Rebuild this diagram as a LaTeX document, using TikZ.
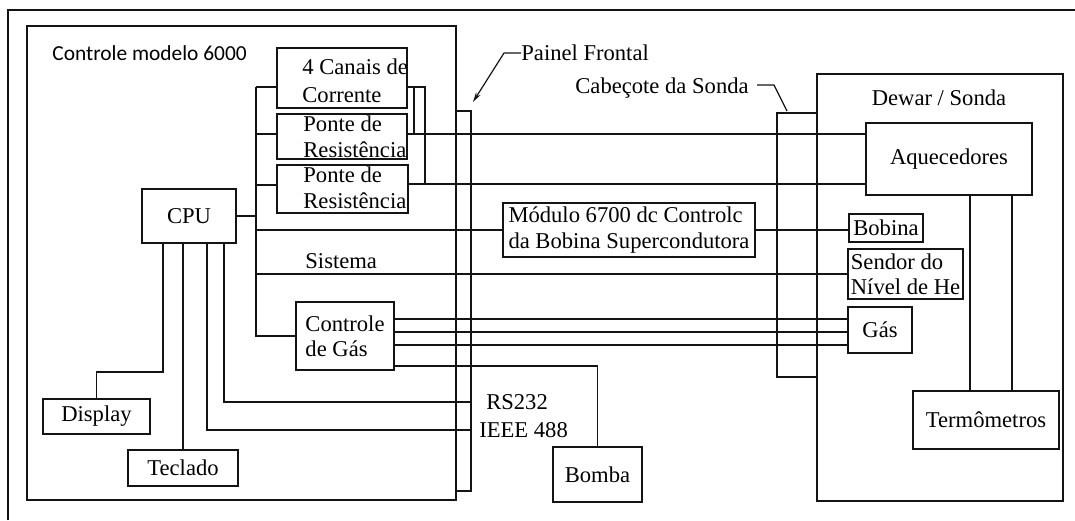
\documentclass[tikz,border=0pt]{standalone}
\usepackage{fontspec}
\setmainfont{Liberation Serif}
\newfontfamily\ctrlfont{Carlito}
\usetikzlibrary{positioning,arrows.meta}
\definecolor{ink}{gray}{0.08}
\tikzset{
  blk/.style={draw=ink, line width=0.7pt, inner sep=0.5pt, align=left},
  wr/.style={draw=ink, line width=0.6pt},
  txt/.style={inner sep=0pt, align=left}}

\begin{document}
\begin{tikzpicture}[x=0.5pt, y=-0.5pt, font=\fontsize{11.3}{12.6}\selectfont]
\useasboundingbox (0,0) rectangle (1075,520);
\draw[draw=ink, line width=1.2pt] (8,520) -- (8,10) -- (1075,10);
\node[blk, minimum width=214.5pt, minimum height=237pt] (ctrl) at (241.5,263) {};
\node[blk, minimum width=7.5pt, minimum height=190pt] (pnl) at (463.5,301) {};
\node[txt, anchor=west, font=\ctrlfont\fontsize{10.7}{12}\selectfont] (ctrlT) at (52,53) {Controle modelo 6000};
\node[blk, minimum width=65pt, minimum height=30pt] (canais) at (342,78) {};
\node[blk, minimum width=65pt, minimum height=22.5pt] (ponte1) at (342,136.5) {};
\node[blk, minimum width=65.5pt, minimum height=24pt] (ponte2) at (342.5,189) {};
\node[txt, anchor=base west] (canaisT) at (302,102) {4 Canais de\\[1.2pt]Corrente};
\node[txt, anchor=base west] (ponte1T) at (303,157) {Ponte de\\Resistência};
\node[txt, anchor=base west] (ponte2T) at (303,208) {Ponte de\\Resistência};
\node[blk, minimum width=47pt, minimum height=27pt] (cpu) at (189,216) {CPU};
\node[blk, minimum width=126pt, minimum height=27pt] (mod) at (629,230) {Módulo 6700 dc Controlc\\da Bobina Supercondutora};
\node[blk, minimum width=49pt, minimum height=34pt] (gasctl) at (345,336) {Controle\\de Gás};
\node[blk, minimum width=53.5pt, minimum height=17.5pt] (disp) at (96.5,416.5) {Display};
\node[blk, minimum width=55pt, minimum height=18pt] (tecl) at (183,468) {Teclado};
\node[blk, minimum width=44.5pt, minimum height=27.5pt] (bomba) at (597.5,474.5) {Bomba};
\node[blk, minimum width=20pt, minimum height=132pt] (cab) at (797,245) {};
\node[blk, minimum width=123pt, minimum height=213.5pt] (dewar) at (940,287.5) {};
\node[txt] (dewarT) at (939,98) {Dewar / Sonda};
\node[blk, minimum width=83pt, minimum height=36pt] (aq) at (949,159) {Aquecedores};
\node[blk, minimum width=37pt, minimum height=14pt] (bob) at (886,228) {Bobina};
\node[blk, minimum width=57.5pt, minimum height=25pt] (sen) at (905.5,274) {Sendor do\\Nível de He};
\node[blk, minimum width=32pt, minimum height=23pt] (gas) at (880,330) {Gás};
\node[blk, minimum width=73pt, minimum height=29pt] (termo) at (986,420) {Termômetros};
\coordinate (bt) at (256,87);
\draw[wr] (bt) -- (canais.west |- bt);
\draw[wr] (bt) -- (bt |- gasctl.west) -- (gasctl.west);
\draw[wr] (bt |- 0,134) -- (ponte1.west |- 0,134);
\draw[wr] (bt |- 0,185) -- (ponte2.west |- 0,185);
\draw[wr, line width=1.2pt] (cpu.east) -- (cpu.east -| bt);
\draw[wr] (bt |- mod.west) -- (mod.west);
\draw[wr] (mod.east) -- (bob.west |- mod.east);
\draw[wr] (bt |- sen.west) -- (sen.west);
\node[txt, anchor=base west] (sis) at (305,268) {Sistema};
\draw[wr] (canais.east |- bt) -| (425,184);
\draw[wr] (414,87) -- (414,134);
\draw[wr] (ponte1.east |- 0,134) -- (aq.west |- 0,134);
\draw[wr] (ponte2.east |- 0,184) -- (aq.west |- 0,184);
\foreach \y in {319,332,345}
  \draw[wr] (gasctl.east |- 0,\y) -- (gas.west |- 0,\y);
\draw[wr] (gasctl.east |- 0,366) -| (bomba.north);
\draw[wr] (cpu.south -| 163,0) |- (disp.north |- 0,372) -- (disp.north);
\draw[wr] (cpu.south -| tecl.north) -- (tecl.north);
\draw[wr] (cpu.south -| 207,0) |- (pnl.east |- 0,430) node[txt, right=3.5pt] (ieee) {IEEE 488};
\draw[wr] (cpu.south -| 224,0) |- (pnl.east |- 0,402) node[txt, right=7pt] (rs) {RS232};
\foreach \x in {970,1012}
  \draw[wr] (aq.south -| \x,0) -- (termo.north -| \x,0);
\node[txt, anchor=west] (pf) at (521,53) {Painel Frontal};
\coordinate (pftip) at (473,102);
\draw[wr, -{Stealth[length=5pt, width=2.6pt]}] (pf.west) -- ++(-17,0) -- (pftip);
\node[txt, anchor=west] (cs) at (575,88) {Cabeçote da Sonda};
\coordinate (cstip) at (787,111);
\draw[wr] ([xshift=4pt, yshift=1.5pt]cs.east) -- ++(17,0) -- (cstip);
\end{tikzpicture}
\end{document}
